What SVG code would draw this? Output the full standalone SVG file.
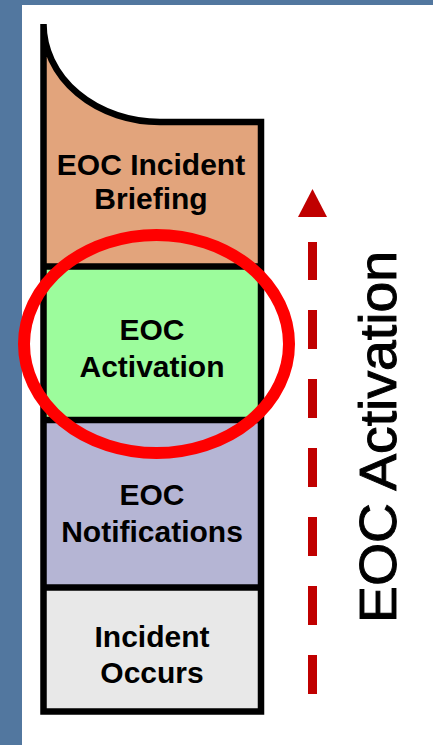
<svg xmlns="http://www.w3.org/2000/svg" width="433" height="745" viewBox="0 0 433 745">
<defs>
<style>
.box{stroke:none}
.lbl{font-family:"Liberation Sans",Arial,sans-serif;font-weight:bold;font-size:30px;fill:#000;text-anchor:middle}
.outline{fill:none;stroke:#000;stroke-width:6.5;stroke-linejoin:miter}
.arrow{stroke:#C00000;stroke-width:9;stroke-dasharray:39 30;fill:none}
</style>
</defs>
<rect x="0" y="0" width="433" height="745" fill="#52779f"/>
<rect x="22" y="5" width="411" height="740" fill="#ffffff"/>
<g id="node-briefing">
<path class="box" d="M43.5,24 A116.5,98 0 0 0 160,122 H261 V266.5 H43.5 Z" fill="#E2A47C"/>
<text class="lbl" x="151" y="175">EOC Incident</text>
<text class="lbl" x="151" y="209">Briefing</text>
</g>
<g id="node-activation">
<rect class="box" x="43.5" y="266.5" width="217.5" height="153.5" fill="#9CFC9C"/>
<text class="lbl" x="152" y="340">EOC</text>
<text class="lbl" x="152" y="377">Activation</text>
</g>
<g id="node-notifications">
<rect class="box" x="43.5" y="420" width="217.5" height="167.5" fill="#B5B5D4"/>
<text class="lbl" x="152" y="505">EOC</text>
<text class="lbl" x="152" y="542">Notifications</text>
</g>
<g id="node-incident">
<rect class="box" x="43.5" y="587.5" width="217.5" height="124" fill="#E8E8E8"/>
<text class="lbl" x="152" y="647">Incident</text>
<text class="lbl" x="152" y="683">Occurs</text>
</g>
<g id="column-outline">
<path class="outline" d="M43.5,24 A116.5,98 0 0 0 160,122 H261 V711.5 H43.5 Z"/>
<path class="outline" d="M43.5,266.5 H261 M43.5,420 H261 M43.5,587.5 H261"/>
</g>
<g id="highlight">
<ellipse cx="156.5" cy="344" rx="132.5" ry="109" fill="none" stroke="#FF0000" stroke-width="12"/>
</g>
<g id="connectors">
<line class="arrow" x1="312.5" y1="694" x2="312.5" y2="242"/>
<polygon points="298,217 327,217 312.5,189" fill="#C00000"/>
</g>
<g id="axis-label">
<text transform="translate(396,623) rotate(-90)" x="0" y="0" font-family="'Liberation Sans',Arial,sans-serif" font-size="51" fill="#000" stroke="#000" stroke-width="0.9" textLength="372" lengthAdjust="spacingAndGlyphs">EOC Activation</text>
</g>
</svg>
